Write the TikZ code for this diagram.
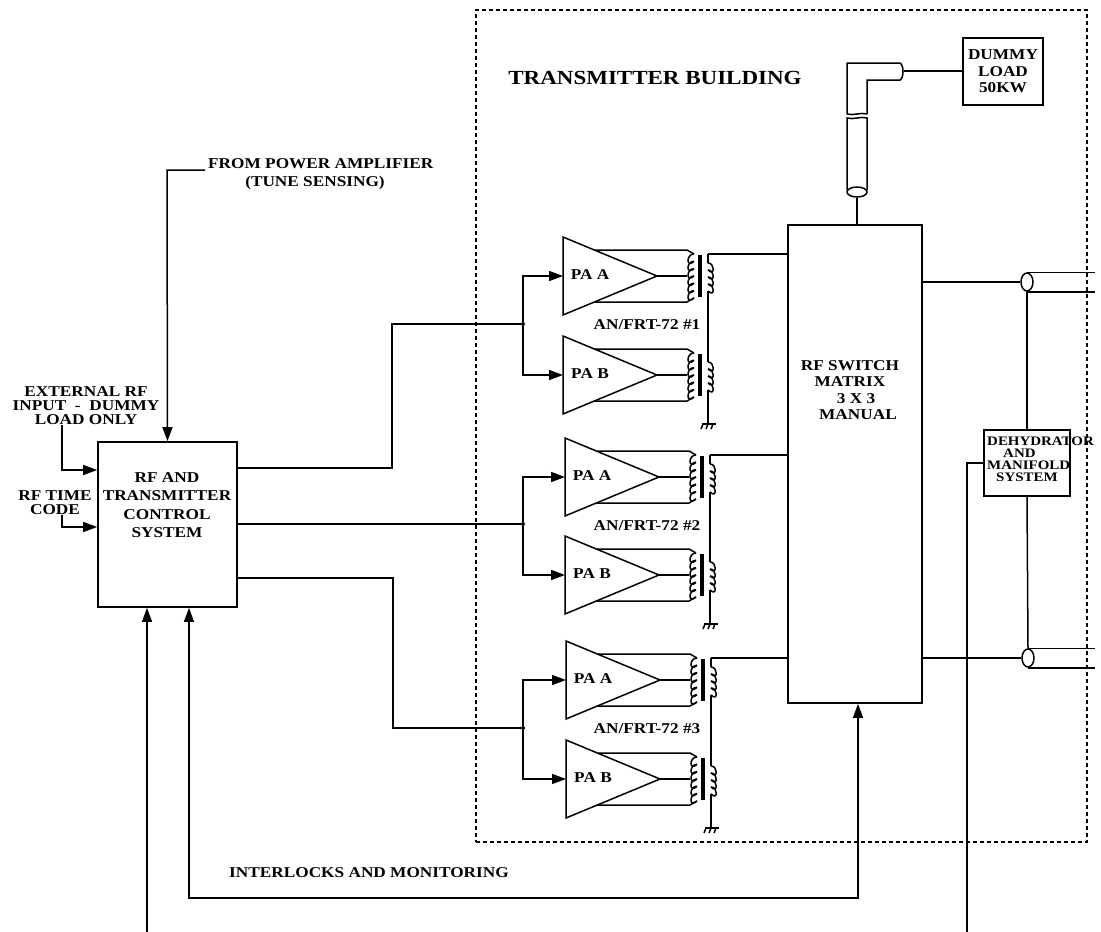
\documentclass[tikz,border=0pt]{standalone}
\usepackage{fontspec}
\setmainfont[FakeStretch=1.15]{Liberation Serif}
\usetikzlibrary{arrows.meta,shapes.geometric}

\newcommand{\lbfont}[2]{\fontsize{#1}{#2}\bfseries\selectfont}

\tikzset{
  wire/.style={line width=1.5pt},
  blockbox/.style={draw,line width=1.7pt,inner sep=0pt,align=center},
  lbl/.style={inner sep=0pt,align=center,font=\lbfont{15}{14}},
  junc/.style={circle,fill,inner sep=0pt,minimum size=4pt},
  feed/.style={draw,line width=1.5pt,ellipse,inner sep=0pt,minimum width=12pt,minimum height=18pt},
  % one power amplifier with its output transformer
  paamp/.pic={
    \draw[wire] (0,-39) -- (94,0) -- (0,39) -- cycle;
    \node[lbl] (label) at (27,-1) {#1};
    \draw[wire] (32,-26) -- (124,-26) -- (131,-22);
    \draw[wire] (94,0) -- (124,0);
    \draw[wire] (32,26) -- (124,26) -- (131,22);
    \foreach \k in {0,...,5}
      \draw[wire] (131,-22+\k*7.33) .. controls +(-8,0) and +(-8,7.33) .. (131,-22+\k*7.33+7.33);
    \draw[line width=3.2pt] (137,-21) -- (137,21);
    \foreach \k in {0,...,3}
      \draw[wire] (145,-13+\k*7) .. controls +(7,0) and +(7,7) .. (145,-13+\k*7+7);
    \coordinate (sectop) at (145,-22);
    \coordinate (secbot) at (145,15);
    \draw[wire] (sectop) -- (145,-13);
  },
  earth/.pic={
    \draw[wire] (-6,0) -- (8,0);
    \foreach \t in {-5,0,5}
      \draw[wire] (\t,0) -- (\t-2,5);
  }
}

\begin{document}
\begin{tikzpicture}[x=1pt,y=-1pt,>={Triangle[length=14pt,width=10pt]}]
  \useasboundingbox (0,0) rectangle (1101,932);

  % building outline
  \node[draw,dash pattern=on 4pt off 3pt,line width=1.3pt,minimum width=611pt,minimum height=832pt,inner sep=0pt] (bldg) at (781.5,426) {};
  \node[lbl,font=\lbfont{20}{22}] (bldgtext) at (655,78) {TRANSMITTER BUILDING};

  % main blocks
  \node[blockbox,minimum width=139pt,minimum height=165pt] (ctrl) at (167.5,524.5) {};
  \node[lbl,font=\lbfont{15}{18.5}] (ctrltext) at (167,505) {RF AND\\TRANSMITTER\\CONTROL\\SYSTEM};
  \node[blockbox,minimum width=134pt,minimum height=478pt] (sw) at (855,464) {};
  \node[lbl,font=\lbfont{15}{16.5}] (swtext) at (850,390) {RF SWITCH\\MATRIX\\\hspace*{12pt}3 X 3\\\hspace*{16pt}MANUAL};
  \node[blockbox,minimum width=80pt,minimum height=67pt,font=\lbfont{15}{16.5}] (dummy) at (1003,71.5) {DUMMY\\LOAD\\50KW};
  \node[blockbox,minimum width=86pt,minimum height=66pt] (dehyd) at (1027,463) {};
  \node[lbl,font=\lbfont{13}{12},align=left,anchor=west] (dehydtext) at (987,459) {DEHYDRATOR\\\hspace*{16pt}AND\\MANIFOLD\\\hspace*{9pt}SYSTEM};

  % amplifier pairs
  \foreach \unit/\ax/\ay/\by/\jy/\oy/\vx in {1/563/276/375/324/468/392,2/565/477/575/524/524/393,3/566/680/779/728/578/393} {
    \pic (u\unit a-) at (\ax,\ay) {paamp={PA A}};
    \pic (u\unit b-) at (\ax,\by) {paamp={PA B}};
    \node[lbl] (frt\unit) at (647,\ay+49) {AN/FRT-72 \#\unit};
    \node[junc] (j\unit) at (523,\jy) {};
    \draw[wire] (ctrl.east |- \vx,\oy) -- (\vx,\oy) -- (\vx,\jy) -- (j\unit);
    \draw[wire,->] (j\unit) -- (523,\ay) -- (\ax,\ay);
    \draw[wire,->] (j\unit) -- (523,\by) -- (\ax,\by);
    \draw[wire] (u\unit a-sectop) -- (u\unit a-sectop -| sw.west);
    \draw[wire] (u\unit a-secbot) -- (u\unit b-sectop);
    \coordinate (g\unit) at (\ax+145,\by+49);
    \draw[wire] (u\unit b-secbot) -- (g\unit);
    \pic (e\unit-) at (g\unit) {earth};
  }

  % inputs of the control system
  \coordinate (tune) at (205,170);
  \node[lbl,anchor=west] (tunetext) at (208,164) {FROM POWER AMPLIFIER};
  \node[lbl] (tunetext2) at (315,183) {(TUNE SENSING)};
  \draw[wire,->] (tune) -- (167,170) -- (ctrl.north);
  \node[lbl] (exttext) at (86,406) {EXTERNAL RF\\INPUT\ \ -\ \ DUMMY\\LOAD ONLY};
  \node[lbl] (timetext) at (55,503) {RF TIME\\CODE};
  \coordinate (extin) at (62,425);
  \coordinate (timein) at (62,515);
  \draw[wire,->] (extin) -- (62,470) -- (ctrl.west |- 62,470);
  \draw[wire,->] (timein) -- (62,527) -- (ctrl.west |- 62,527);

  % lines from below
  \coordinate (ext) at (147,932);
  \draw[wire,->] (ext) -- (ext |- ctrl.south);
  \coordinate (ilk1) at (189,898);
  \coordinate (ilk2) at (858,898);
  \draw[wire,<->] (ilk1 |- ctrl.south) -- (ilk1) -- (ilk2) -- (ilk2 |- sw.south);
  \node[lbl] (ilktext) at (369,873) {INTERLOCKS AND MONITORING};

  % elbow to the dummy load
  \draw[wire] (847,114) -- (847,63) -- (900,63) .. controls (904,65) and (904,78) .. (900,80) -- (867,80) -- (867,114);
  \draw[wire] (847,114) .. controls (853,116) and (861,112) .. (867,114);
  \coordinate (elbow) at (904,71);
  \draw[wire] (elbow) -- (dummy.west |- elbow);
  \draw[wire] (847,190) -- (847,118) .. controls (853,120) and (861,116) .. (867,118) -- (867,190);
  \node[feed,minimum width=20pt,minimum height=10pt] (stub) at (857,192) {};
  \draw[wire] (stub.south) -- (stub.south |- sw.north);

  % antenna feeds
  \node[feed] (feedA) at (1027,282) {};
  \node[feed] (feedB) at (1028,658) {};
  \foreach \f in {feedA,feedB} {
    \coordinate (\f end) at (1095,0);
    \draw[wire] (sw.east |- \f) -- (\f.west);
    \draw[wire] (\f.north) -- (\f.north -| \f end);
    \draw[wire] (\f.south) -- (\f.south -| \f end);
  }
  \draw[wire] (feedA.south) -- (dehyd.north);
  \draw[wire] (dehyd.south) -- (feedB.north);

  % dehydrator line
  \coordinate (air) at (967,932);
  \draw[wire] (air) -- (air |- dehyd) -- (dehyd.west);
\end{tikzpicture}
\end{document}
